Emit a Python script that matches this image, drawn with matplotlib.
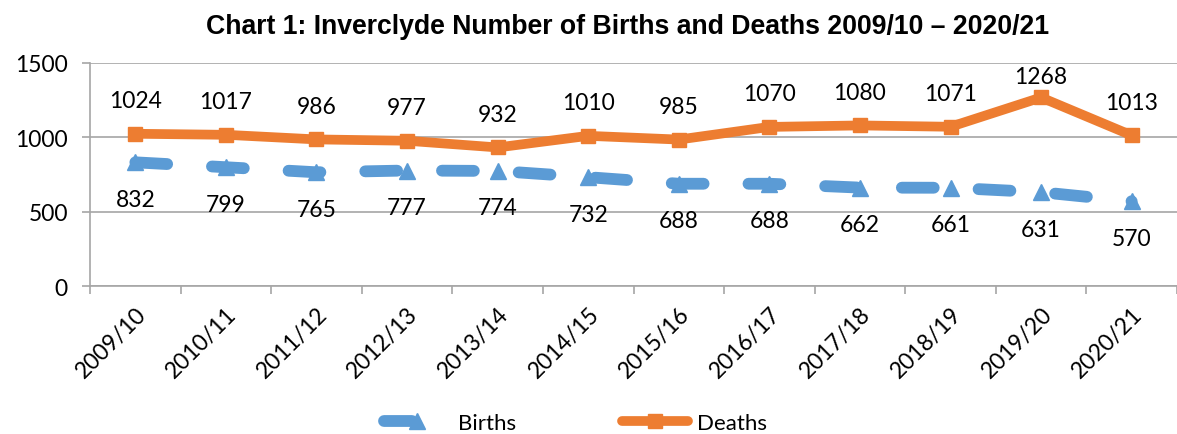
import matplotlib
matplotlib.use("Agg")
import matplotlib.pyplot as plt
from matplotlib.lines import Line2D
from matplotlib.ticker import FixedLocator, NullFormatter

years = ["2009/10", "2010/11", "2011/12", "2012/13", "2013/14", "2014/15",
         "2015/16", "2016/17", "2017/18", "2018/19", "2019/20", "2020/21"]
births = [832, 799, 765, 777, 774, 732, 688, 688, 662, 661, 631, 570]
deaths = [1024, 1017, 986, 977, 932, 1010, 985, 1070, 1080, 1071, 1268, 1013]

blue = "#5B9BD5"
orange = "#ED7D31"
grey = "#A6A6A6"
num_font = "Lato"
W, H = 1177, 435

fig = plt.figure(figsize=(W / 100, H / 100), dpi=100)
ax = fig.add_axes([0.0765, 0.340, 0.9235, 0.513])

x = list(range(len(years)))

ax.plot(x, births, color=blue, lw=8.5, linestyle=(0, (2.7, 3.8)),
        dash_capstyle="round", marker="^", markersize=11,
        markerfacecolor=blue, markeredgecolor=blue, zorder=3)
ax.plot(x, deaths, color=orange, lw=7, marker="s", markersize=10,
        markerfacecolor=orange, markeredgecolor=orange,
        solid_capstyle="round", zorder=4)

for i, v in enumerate(deaths):
    ax.text(i, min(v + 222, 1412), str(v), ha="center", va="center",
            fontsize=16.5, family=num_font, color="black")
for i, v in enumerate(births):
    ax.text(i, v - 249, str(v), ha="center", va="center",
            fontsize=16.5, family=num_font, color="black")

ax.set_xlim(-0.5, len(years) - 0.5)
ax.set_ylim(0, 1500)
ax.set_yticks([0, 500, 1000, 1500])
ax.set_yticklabels(["0", "500", "1000", "1500"], fontsize=16.5, family=num_font)
ax.yaxis.grid(True, color=grey, lw=1.2)
ax.set_axisbelow(True)

ax.set_xticks(x)
ax.set_xticklabels(years, rotation=45, ha="right", rotation_mode="anchor",
                   fontsize=16.5, family=num_font)
ax.xaxis.set_minor_locator(FixedLocator([i - 0.5 for i in range(len(years) + 1)]))
ax.xaxis.set_minor_formatter(NullFormatter())
ax.tick_params(axis="x", which="major", length=0, pad=12)
ax.tick_params(axis="x", which="minor", length=6, color=grey, width=1.2)
ax.tick_params(axis="y", length=6, color=grey, width=1.2, pad=10)

for s in ["top", "right"]:
    ax.spines[s].set_visible(False)
for s in ["left", "bottom"]:
    ax.spines[s].set_color(grey)
    ax.spines[s].set_linewidth(1.2)

fig.text(628 / W, 1 - 27 / H,
         "Chart 1: Inverclyde Number of Births and Deaths 2009/10 \u2013 2020/21",
         ha="center", va="center", fontsize=19.2, fontweight="bold",
         family="Liberation Sans")

# legend drawn by hand, Excel style
ly = 1 - 422 / H
fig.add_artist(Line2D([384 / W, 412 / W], [ly, ly], color=blue, lw=8.5,
                      solid_capstyle="round", transform=fig.transFigure))
fig.add_artist(Line2D([417 / W], [ly], color=blue, marker="^", markersize=11,
                      lw=0, transform=fig.transFigure))
fig.text(458 / W, ly, "Births", ha="left", va="center_baseline",
         fontsize=16, family=num_font)
fig.add_artist(Line2D([622 / W, 688 / W], [ly, ly], color=orange, lw=7,
                      solid_capstyle="round", transform=fig.transFigure))
fig.add_artist(Line2D([655 / W], [ly], color=orange, marker="s", markersize=10,
                      lw=0, transform=fig.transFigure))
fig.text(697 / W, ly, "Deaths", ha="left", va="center_baseline",
         fontsize=16, family=num_font)

fig.savefig("out.png", dpi=100)
